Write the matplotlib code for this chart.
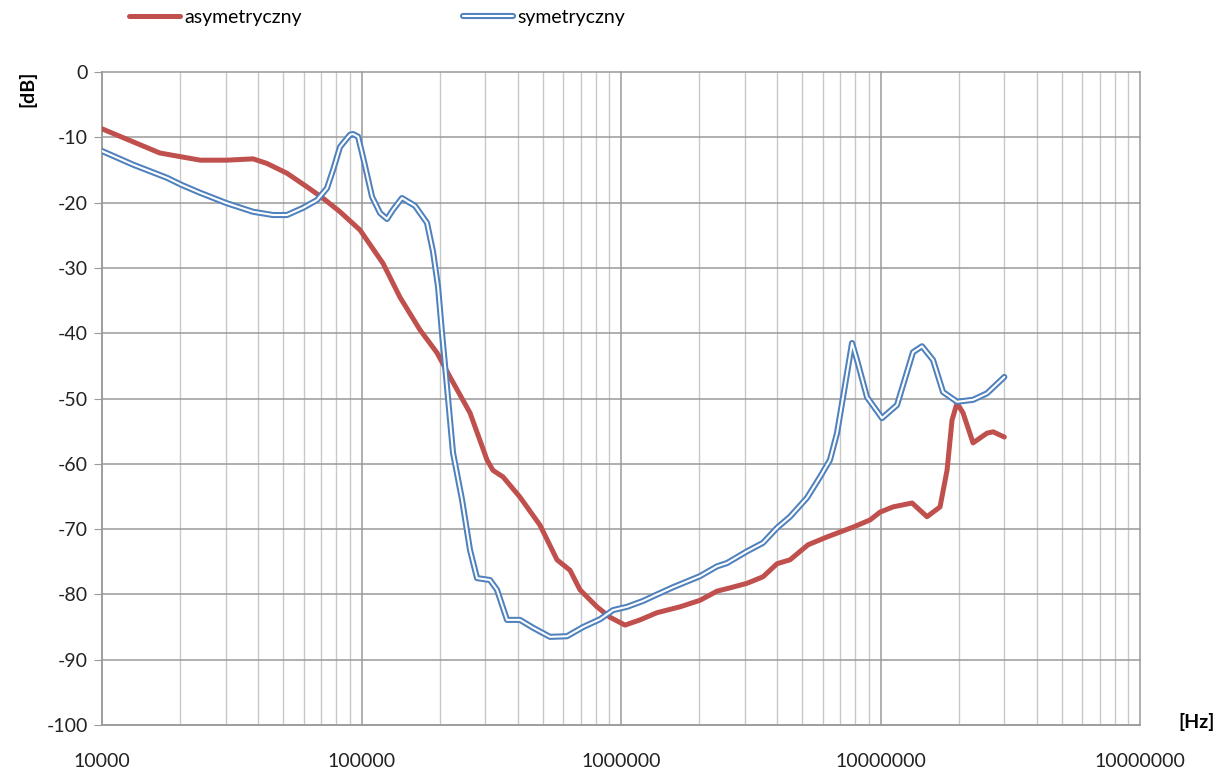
import numpy as np
import matplotlib.pyplot as plt
import matplotlib.patheffects as pe
from matplotlib.ticker import FixedLocator, LogLocator, NullFormatter

plt.rcParams['font.family'] = ['Lato', 'DejaVu Sans']
plt.rcParams['axes.unicode_minus'] = False

# asymetryczny (red)
f_asym = [10000, 16700, 20300, 23900, 30300, 38200, 43200, 51600, 61700, 70400,
          82600, 98700, 121000, 140700, 168100, 195400, 219300, 261900, 304500,
          321100, 351000, 408000, 487400, 566700, 636000, 695000, 808000, 907000,
          1036000, 1184000, 1376000, 1688000, 2016000, 2344000, 2630000, 3058000,
          3525000, 3993000, 4480000, 5256000, 6221000, 7834000, 9111000, 9956000,
          11173000, 13226000, 15110000, 16958000, 18046000, 18864000, 19719000,
          20796000, 22724000, 25733000, 27139000, 30000000]
db_asym = [-8.7, -12.4, -13.0, -13.5, -13.5, -13.3, -14.0, -15.5, -17.6, -19.2,
           -21.4, -24.2, -29.3, -34.5, -39.5, -43.0, -46.7, -52.2, -59.4,
           -61.0, -62.0, -65.1, -69.4, -74.7, -76.3, -79.3, -81.9, -83.5,
           -84.7, -83.9, -82.8, -81.9, -80.9, -79.5, -79.0, -78.3,
           -77.3, -75.3, -74.7, -72.4, -71.2, -69.7, -68.6, -67.4,
           -66.6, -66.0, -68.1, -66.6, -61.0, -53.3, -50.7,
           -52.2, -56.8, -55.3, -55.1, -55.9]

# symetryczny (blue)
f_sym = [10000, 13200, 17800, 20300, 23900, 30300, 38200, 45600, 51600, 59500,
         67400, 73600, 77700, 82600, 84900, 90300, 92700, 97000, 101300, 109800,
         117900, 125400, 132200, 143200, 160800, 178800, 188600, 197200, 204300,
         213500, 225200, 244000, 261900, 278700, 312700, 332800, 363700, 408000,
         458000, 532600, 619400, 713800, 830000, 931800, 1054700, 1215600,
         1413200, 1586200, 2016000, 2344000, 2561000, 3058000, 3525000, 3993000,
         4480000, 5211000, 5848000, 6388000, 6798000, 7171000, 7768000, 8117000,
         8872000, 10134000, 11577000, 13343000, 14453000, 15936000, 17413000,
         19719000, 22724000, 25733000, 30000000]
db_sym = [-12.1, -14.2, -16.2, -17.3, -18.5, -20.1, -21.4, -21.9, -21.9, -20.8,
          -19.6, -17.8, -15.0, -11.5, -10.9, -9.6, -9.5, -9.9, -13.0, -19.1,
          -21.6, -22.5, -21.1, -19.3, -20.5, -23.1, -27.5, -32.9, -40.0,
          -48.2, -58.3, -65.5, -73.2, -77.5, -77.8, -79.3, -83.9, -83.9,
          -85.1, -86.5, -86.4, -85.0, -83.8, -82.4, -81.9, -81.0,
          -79.8, -78.9, -77.2, -75.7, -75.2, -73.4, -72.1, -69.8,
          -68.1, -65.2, -62.0, -59.4, -55.3, -49.8, -41.5, -44.1,
          -49.8, -53.0, -51.0, -42.9, -42.0, -44.1, -49.0,
          -50.5, -50.2, -49.2, -46.7]

xticks = [1e4, 1e5, 1e6, 1e7, 1e8]
xlabels = ['10000', '100000', '1000000', '10000000', '10000000']
yticks = list(range(-100, 1, 10))

fig = plt.figure(figsize=(12.29, 7.76), dpi=100)
ax = fig.add_axes([0.083, 0.0657, 0.8446, 0.8415])

red = '#c0504d'
blue = '#4f81bd'

ax.plot(f_asym, db_asym, color=red, lw=3.6, solid_capstyle='round',
        solid_joinstyle='round', zorder=3, label='asymetryczny')
ax.plot(f_sym, db_sym, color='white', lw=1.5, solid_capstyle='round',
        solid_joinstyle='round', zorder=4, label='symetryczny',
        path_effects=[pe.Stroke(linewidth=4.4, foreground=blue,
                                capstyle='round', joinstyle='round'),
                      pe.Normal()])

ax.set_xscale('log')
ax.set_xlim(1e4, 1e8)
ax.set_ylim(-100, 0)
ax.xaxis.set_major_locator(FixedLocator(xticks))
ax.set_xticklabels(xlabels)
ax.xaxis.set_minor_locator(LogLocator(base=10, subs=np.arange(2, 10)))
ax.xaxis.set_minor_formatter(NullFormatter())
ax.set_yticks(yticks)

ax.grid(True, which='major', axis='both', color='#9a9a9a', lw=1.1)
ax.grid(True, which='minor', axis='x', color='#c8c8c8', lw=1.0)
ax.set_axisbelow(True)
for g in ax.get_xgridlines() + ax.get_ygridlines():
    g.set_clip_on(False)

for s in ['top', 'right']:
    ax.spines[s].set_visible(False)
for s in ['left', 'bottom']:
    ax.spines[s].set_color('#9a9a9a')
    ax.spines[s].set_linewidth(1.1)

ax.tick_params(axis='y', which='major', length=6, color='#9a9a9a', labelsize=14,
               pad=4, labelcolor='#222222')
ax.tick_params(axis='x', which='both', length=0, labelsize=14, pad=20,
               labelcolor='#222222')

fig.text(0.022, 0.885, '[dB]', rotation=90, fontsize=14, fontweight='bold',
         ha='center', va='center')
fig.text(0.974, 0.069, '[Hz]', fontsize=14, fontweight='bold',
         ha='center', va='center')

h, l = ax.get_legend_handles_labels()
fig.legend(h, l, loc='center left', bbox_to_anchor=(0.099, 0.978), ncol=2,
           frameon=False, fontsize=14, handlelength=2.6, handletextpad=0.2,
           columnspacing=8.3, borderaxespad=0)

fig.savefig('out.png', dpi=100)
